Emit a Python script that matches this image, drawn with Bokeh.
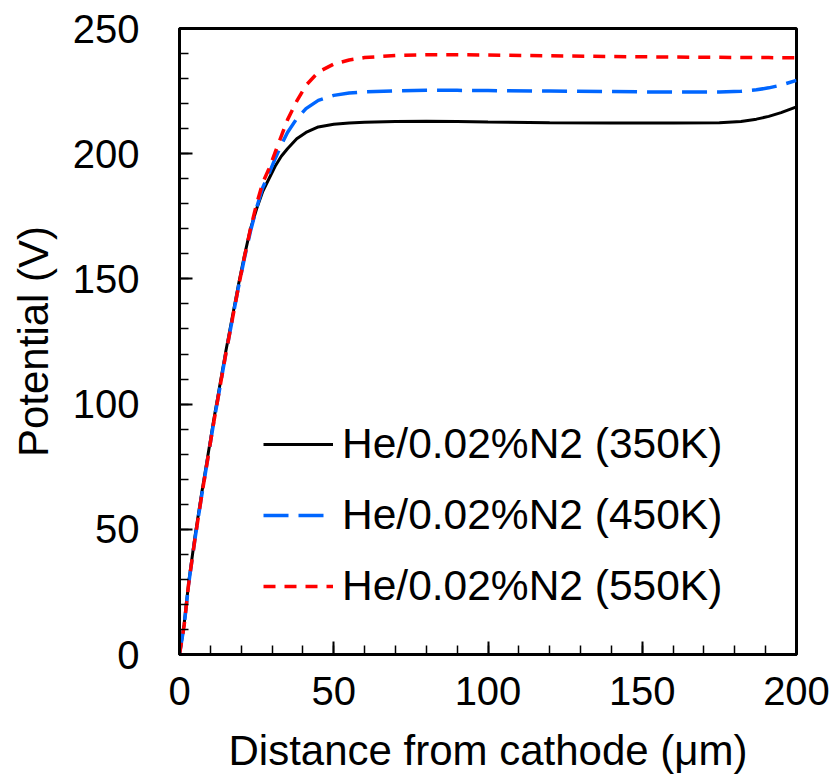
from bokeh.plotting import figure
from bokeh.models import SingleIntervalTicker, Range1d, Legend, LegendItem
from bokeh.embed import file_html
from bokeh.resources import INLINE

# Distance from cathode (um)
distance = [0, 1.5, 3, 5, 7, 9, 11, 13, 15, 17, 19, 21, 23, 25, 27, 29, 31, 33, 35,
            38, 41, 45, 50, 55, 60, 70, 80, 90, 100, 120, 140, 160, 175, 182, 187,
            191, 195, 200]

# Potential (V)
pot_350K = [0, 12, 29, 47, 63, 78, 93, 107, 121, 134, 147, 159, 170, 178, 185, 190,
            195, 199, 202, 206, 208.5, 210.7, 211.8, 212.3, 212.6, 212.9, 213.0, 212.9,
            212.7, 212.4, 212.3, 212.3, 212.4, 212.9, 213.8, 214.9, 216.4, 218.7]
pot_450K = [0, 11.5, 28.5, 46, 62, 77, 92, 106, 120, 133, 146, 158, 169, 178.5, 186.5,
            192, 198, 203.5, 208.5, 214, 218, 221.3, 223.3, 224.2, 224.7, 225.1, 225.3,
            225.3, 225.2, 225.0, 224.8, 224.6, 224.6, 224.9, 225.5, 226.3, 227.4, 229.3]
pot_550K = [0, 11.5, 28.5, 46, 62, 77, 92, 106, 120, 133, 146, 158.5, 170, 180, 188.5,
            194, 200.5, 207, 213.5, 221, 227.3, 232.6, 235.8, 237.4, 238.4, 239.2, 239.5,
            239.5, 239.4, 239.1, 238.8, 238.6, 238.5, 238.4, 238.4, 238.4, 238.3, 238.3]

labels = ["He/0.02%N2 (350K)", "He/0.02%N2 (450K)", "He/0.02%N2 (550K)"]

FONT = "Liberation Sans"

p = figure(width=836, height=776, x_range=Range1d(0, 200), y_range=Range1d(0, 250),
           output_backend="svg", toolbar_location=None,
           min_border_left=179, min_border_right=40, min_border_top=28,
           min_border_bottom=120)
p.xgrid.visible = False
p.ygrid.visible = False
p.outline_line_color = "black"
p.outline_line_width = 3

p.xaxis.ticker = SingleIntervalTicker(interval=50, num_minor_ticks=5)
p.yaxis.ticker = SingleIntervalTicker(interval=50, num_minor_ticks=5)
for ax in (p.xaxis[0], p.yaxis[0]):
    ax.axis_line_width = 3
    ax.axis_line_color = "black"
    ax.major_tick_in = 13
    ax.major_tick_out = 0
    ax.minor_tick_in = 9
    ax.minor_tick_out = 0
    ax.major_tick_line_width = 2
    ax.minor_tick_line_width = 1.5
    ax.major_tick_line_color = "black"
    ax.minor_tick_line_color = "black"
    ax.major_label_text_font = FONT
    ax.major_label_text_font_size = "40px"
    ax.major_label_text_color = "black"
    ax.axis_label_text_font = FONT
    ax.axis_label_text_font_size = "42px"
    ax.axis_label_text_font_style = "normal"
    ax.axis_label_text_color = "black"

p.xaxis.axis_label = "Distance from cathode (\u03bcm)"
p.yaxis.axis_label = "Potential (V)"
p.xaxis.major_label_standoff = 22
p.xaxis.axis_label_standoff = 19
p.yaxis.major_label_standoff = 40
p.yaxis.axis_label_standoff = 13

r1 = p.line(distance, pot_350K, line_color="black", line_width=3)
r2 = p.line(distance, pot_450K, line_color="#0066ff", line_width=3.5, line_dash="25 10")
r3 = p.line(distance, pot_550K, line_color="#ff0000", line_width=3.5, line_dash="12 9")

legend = Legend(items=[LegendItem(label=labels[0], renderers=[r1]),
                       LegendItem(label=labels[1], renderers=[r2]),
                       LegendItem(label=labels[2], renderers=[r3])],
                location=(84, 44))
legend.border_line_color = None
legend.background_fill_alpha = 0
legend.label_text_font = FONT
legend.label_text_font_size = "42.5px"
legend.label_text_color = "black"
legend.glyph_width = 70
legend.glyph_height = 48
legend.label_height = 48
legend.spacing = 23
legend.padding = 0
legend.margin = 0
legend.label_standoff = 9
p.add_layout(legend)

open("out.html", "w").write(file_html(p, INLINE))
